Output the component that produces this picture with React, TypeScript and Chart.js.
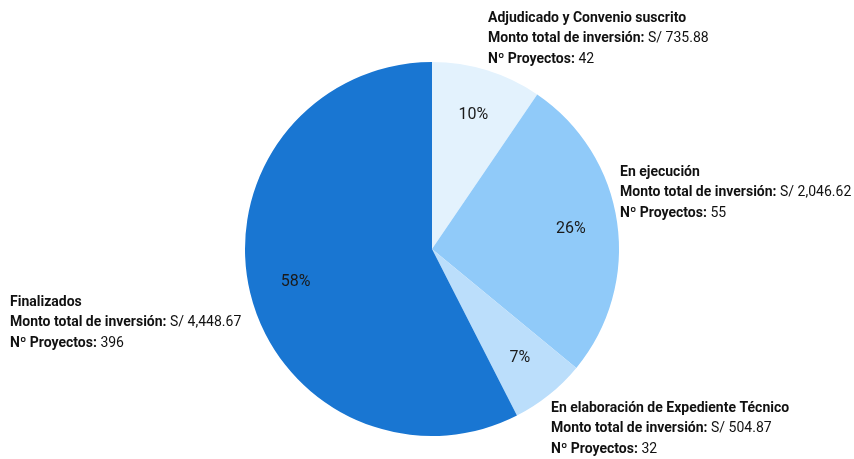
import React, { useEffect, useRef } from "react";
import { Chart, registerables } from "chart.js";

Chart.register(...registerables);

const categories = [
  "Adjudicado y Convenio suscrito",
  "En ejecución",
  "En elaboración de Expediente Técnico",
  "Finalizados",
];
const montos = [735.88, 2046.62, 504.87, 4448.67];
const proyectos = [42, 55, 32, 396];
const colors = ["#e3f2fd", "#90caf9", "#bbdefb", "#1976d2"];

// label placement relative to pie centre (dx, dy of first line centre)
const labelOffsets: [number, number][] = [
  [56, -231],
  [188, -77],
  [119, 159],
  [-422, 53],
];

const FONT = "Roboto, 'Noto Sans', sans-serif";

const labelsPlugin = {
  id: "customLabels",
  afterDatasetsDraw(chart: any) {
    const ctx = chart.ctx as CanvasRenderingContext2D;
    const meta = chart.getDatasetMeta(0);
    const data = chart.data.datasets[0].data as number[];
    const total = data.reduce((a, b) => a + b, 0);
    ctx.save();
    meta.data.forEach((arc: any, i: number) => {
      const { x, y, startAngle, endAngle, outerRadius } = arc.getProps(
        ["x", "y", "startAngle", "endAngle", "outerRadius"],
        true
      );
      const mid = (startAngle + endAngle) / 2;
      const rr = outerRadius * 0.75;
      const px = x + Math.cos(mid) * rr;
      const py = y + Math.sin(mid) * rr;
      ctx.font = `16px ${FONT}`;
      ctx.fillStyle = "#1a1a1a";
      ctx.textAlign = "center";
      ctx.textBaseline = "middle";
      ctx.fillText(Math.round((data[i] / total) * 100) + "%", px, py);

      // external label
      const [dx, dy] = labelOffsets[i];
      const lx = x + dx;
      let ly = y + dy;
      const lh = 20.5;
      ctx.textAlign = "left";
      ctx.fillStyle = "#111";
      ctx.font = `bold 14px ${FONT}`;
      ctx.fillText(categories[i], lx, ly);
      ly += lh;
      const b1 = "Monto total de inversión:";
      ctx.fillText(b1, lx, ly);
      let w = ctx.measureText(b1).width;
      ctx.font = `14px ${FONT}`;
      ctx.fillText(
        " S/ " +
          montos[i].toLocaleString("en-US", {
            minimumFractionDigits: 2,
            maximumFractionDigits: 2,
          }),
        lx + w,
        ly
      );
      ly += lh;
      ctx.font = `bold 14px ${FONT}`;
      const b2 = "Nº Proyectos:";
      ctx.fillText(b2, lx, ly);
      w = ctx.measureText(b2).width;
      ctx.font = `14px ${FONT}`;
      ctx.fillText(" " + proyectos[i], lx + w, ly);
    });
    ctx.restore();
  },
};

export default function App() {
  const ref = useRef<HTMLCanvasElement>(null);
  useEffect(() => {
    document.body.style.margin = "0";
    const chart = new Chart(ref.current!, {
      type: "pie",
      data: {
        labels: categories,
        datasets: [
          {
            data: montos,
            backgroundColor: colors,
            borderWidth: 0,
          },
        ],
      },
      options: {
        animation: false,
        responsive: false,
        maintainAspectRatio: false,
        layout: { padding: { left: 245, right: 235, top: 62, bottom: 23 } },
        plugins: {
          legend: { display: false },
          tooltip: { enabled: false },
        },
      },
      plugins: [labelsPlugin],
    });
    return () => chart.destroy();
  }, []);
  return (
    <div style={{ width: 854, height: 459, background: "#fff" }}>
      <canvas ref={ref} width={854} height={459} style={{ width: 854, height: 459 }} />
    </div>
  );
}
